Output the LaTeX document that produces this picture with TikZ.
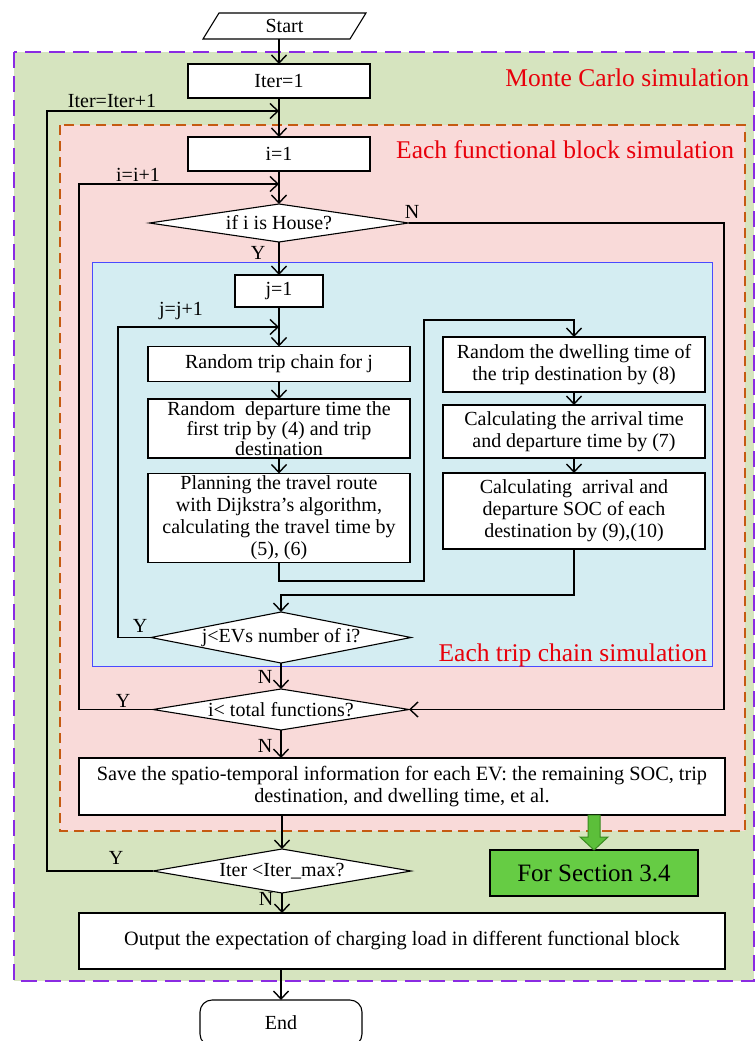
\documentclass[tikz,border=0pt]{standalone}
\usepackage{fontspec}
\setmainfont{Liberation Serif}
\usetikzlibrary{arrows.meta,calc,shapes.geometric}

\definecolor{mcgreen}{HTML}{D6E4BF}
\definecolor{fbpink}{HTML}{F9DAD9}
\definecolor{tcblue}{HTML}{D4EDF2}
\definecolor{mcborder}{HTML}{8A2BE2}
\definecolor{fbborder}{HTML}{C55A11}
\definecolor{tcborder}{HTML}{4A4AFF}
\definecolor{lblred}{HTML}{E8000B}
\definecolor{fsgreen}{HTML}{66CC44}
\definecolor{fsarrow}{HTML}{5CBF3A}
\definecolor{fsarrowline}{HTML}{3A8A20}

\begin{document}
\begin{tikzpicture}[x=1pt,y=-1pt,
  every node/.style={font=\fontsize{20}{22}\selectfont, inner sep=0pt, outer sep=0pt},
  box/.style={draw, line width=1.1pt, fill=white, align=center, minimum width=#1},
  decision/.style={diamond, draw, line width=1.1pt, fill=white},
  flow/.style={line width=1.4pt, line join=miter, -{Straight Barb[length=8pt,width=15pt,line width=1.4pt]}},
  link/.style={line width=1.4pt, line join=miter},
  regionlabel/.style={text=lblred, font=\fontsize{25.5}{28}\selectfont, anchor=base east},
  tag/.style={font=\fontsize{20}{22}\selectfont}
]
\useasboundingbox (0,0) rectangle (755,1041);

% nested simulation regions
\draw[mcborder, line width=2pt, dash pattern=on 16pt off 8pt, fill=mcgreen] (13.5,52) rectangle (754,981);
\draw[fbborder, line width=1.5pt, dash pattern=on 10pt off 6pt, fill=fbpink] (60,125) rectangle (745,831);
\draw[tcborder, line width=1pt, fill=tcblue] (92,262) rectangle (712,666);

\node[regionlabel] (mclabel) at (749,86) {Monte Carlo simulation};
\node[regionlabel] (fblabel) at (734,158) {Each functional block simulation};
\node[regionlabel] (tclabel) at (707,661) {Each trip chain simulation};

% start terminal (parallelogram)
\node (start) at (284.5,26) [minimum width=147, minimum height=26] {Start};
\draw[line width=1.1pt] ([xshift=8pt]start.north west) -- ([xshift=8pt]start.north east)
  -- ([xshift=-8pt]start.south east) -- ([xshift=-8pt]start.south west) -- cycle;

% main column
\node[box=182, minimum height=34] (iter1) at (279,81) {Iter=1};
\node[box=182, minimum height=34] (i1) at (279,154) {i=1};
\node[decision, minimum width=259, minimum height=38] (house) at (279,223) {\makebox[0pt]{if i is House?}};
\node[box=88, minimum height=32] (j1) at (279,291) {j=1};
\node[box=262, minimum height=35] (rtc) at (279,364) {Random trip chain for j};
\node[box=262, minimum height=59, font=\fontsize{20}{20}\selectfont] (rdt) at (279,428.5)
  {Random~ departure time the\\first trip by (4) and trip\\destination};
\node[box=262, minimum height=89] (plan) at (279,518)
  {Planning the travel route\\with Dijkstra's algorithm,\\calculating the travel time by\\(5), (6)};

% right column
\node[box=262, minimum height=55] (dwell) at (574,364.5) {Random the dwelling time of\\the trip destination by (8)};
\node[box=262, minimum height=53] (calc1) at (574,431.5) {Calculating the arrival time\\and departure time by (7)};
\node[box=262, minimum height=76] (calc2) at (574,511) {Calculating~ arrival and\\departure SOC of each\\destination by (9),(10)};

\node[decision, minimum width=260, minimum height=51] (jev) at (281,637.5) {\makebox[0pt]{j<EVs number of i?}};
\node[decision, minimum width=256, minimum height=41] (itot) at (281,709.5) {\makebox[0pt]{i< total functions?}};
\node[box=646, minimum height=57, font=\fontsize{20.3}{22}\selectfont] (save) at (402,786.5)
  {Save the spatio-temporal information for each EV: the remaining SOC, trip\\destination, and dwelling time, et al.};
\node[box=208, minimum height=46, fill=fsgreen, line width=2pt, font=\fontsize{25}{28}\selectfont] (fs) at (594,873) {For Section 3.4};
\node[decision, minimum width=258, minimum height=44] (imax) at (282,871) {\makebox[0pt]{Iter <Iter\_max?}};
\node[box=646, minimum height=56, font=\fontsize{20.3}{22}\selectfont] (out) at (402,941)
  {Output the expectation of charging load in different functional block};
\node[draw, line width=1.1pt, rounded corners=12pt, fill=white, minimum width=162, minimum height=46] (end) at (281,1023) {End};

% connectors
\draw[flow] (start.south -| iter1.north) -- (iter1.north);
\draw[flow] (iter1) -- (i1);
\draw[flow] (i1) -- (house);
\draw[flow] (house) -- (j1);
\draw[flow] (j1) -- (rtc);
\draw[flow] (rtc) -- (rdt);
\draw[flow] (rdt) -- (plan);
\draw[flow] (plan.south) |- (424,581) |- (574,320) -- (dwell.north);
\draw[flow] (dwell) -- (calc1);
\draw[flow] (calc1) -- (calc2);
\draw[flow] (calc2.south) |- (281,595) -- (jev.north);
\draw[flow] (jev) -- (itot);
\draw[flow] (itot.south) -- (itot.south |- save.north);
\draw[flow] (imax.north |- save.south) -- (imax.north);
\draw[flow] (imax.south) -- (imax.south |- out.north);
\draw[flow] (out.south -| end.north) -- (end.north);

% loop-backs
\coordinate (jloop) at (118,327);
\coordinate (iloop) at (79,184);
\coordinate (iterloop) at (47,111);
\draw[flow] (jev.west) -- (jev.west -| jloop) -- (jloop) -- (jloop -| j1.south);
\draw[flow] (itot.west) -- (itot.west -| iloop) -- (iloop) -- (iloop -| i1.south);
\draw[flow] (imax.west) -- (imax.west -| iterloop) -- (iterloop) -- (iterloop -| iter1.south);
\draw[flow] (house.east) -- (724,223) |- (itot.east);

% block arrow towards the next section
\coordinate (ga) at (fs.north |- save.south);
\filldraw[fill=fsarrow, draw=fsarrowline, line width=1pt, line join=miter]
  ($(ga)+(-6,0)$) -- ($(ga)+(-6,22)$) -- ($(ga)+(-14,22)$) -- (fs.north)
  -- ($(ga)+(14,22)$) -- ($(ga)+(6,22)$) -- ($(ga)+(6,0)$) -- cycle;

% branch tags
\node[tag] (iterinc) at (112,101) {Iter=Iter+1};
\node[tag] (iinc) at (138,175) {i=i+1};
\node[tag] (jinc) at (181,311) {j=j+1};
\node[tag] (houseN) at (412,212) {N};
\node[tag] (houseY) at (258,253) {Y};
\node[tag] (jevY) at (140,626) {Y};
\node[tag] (jevN) at (265,677) {N};
\node[tag] (itotY) at (123,701) {Y};
\node[tag] (itotN) at (265,746) {N};
\node[tag] (imaxY) at (116,858) {Y};
\node[tag] (imaxN) at (266,899) {N};
\end{tikzpicture}
\end{document}
